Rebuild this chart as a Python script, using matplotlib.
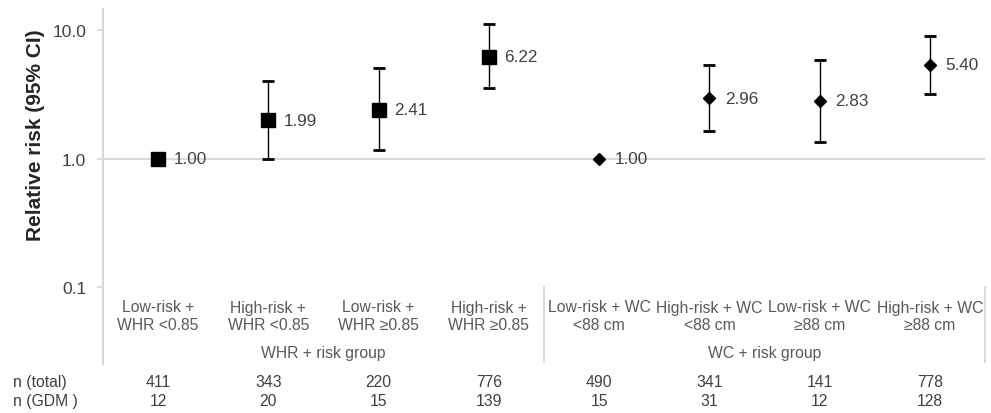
import matplotlib
matplotlib.use("Agg")
import matplotlib.pyplot as plt
import matplotlib.transforms as mtransforms

# ── Data ───────────────────────────────────────────────────────────────────────
cat_labels = ["Low-risk +\nWHR <0.85", "High-risk +\nWHR <0.85",
              "Low-risk +\nWHR \u22650.85", "High-risk +\nWHR \u22650.85",
              "Low-risk + WC\n<88 cm", "High-risk + WC\n<88 cm",
              "Low-risk + WC\n\u226588 cm", "High-risk + WC\n\u226588 cm"]
rr    = [1.00, 1.99, 2.41, 6.22, 1.00, 2.96, 2.83, 5.40]
ci_lo = [1.00, 1.00, 1.16, 3.53, 1.00, 1.64, 1.35, 3.19]
ci_hi = [1.00, 4.04, 5.05, 11.1, 1.00, 5.38, 5.88, 9.03]
markers = ["s", "s", "s", "s", "D", "D", "D", "D"]
group_labels = ["WHR + risk group", "WC + risk group"]
n_total = [411, 343, 220, 776, 490, 341, 141, 778]
n_gdm   = [12, 20, 15, 139, 15, 31, 12, 128]

# ── Style ──────────────────────────────────────────────────────────────────────
plt.rcParams['font.family'] = ['Liberation Sans', 'DejaVu Sans']
C_AXIS = '#d9d9d9'
C_TXT  = '#595959'
C_DARK = '#404040'

fig = plt.figure(figsize=(9.91, 4.14), dpi=100)
ax = fig.add_axes([103/991, 1 - 365/414, 882/991, 355/414])

ax.set_yscale('log')
ax.set_ylim(0.0253, 14.6)
ax.set_xlim(-0.5, 7.5)

xs = list(range(len(rr)))

# reference line at 1.0 (x axis crossing)
ax.axhline(1.0, color=C_AXIS, lw=1.5, zorder=1)

for i in xs:
    ms = 10 if markers[i] == 's' else 6.6
    if ci_hi[i] != ci_lo[i]:
        ax.errorbar(i, rr[i], yerr=[[rr[i] - ci_lo[i]], [ci_hi[i] - rr[i]]],
                    fmt='none', ecolor='black', elinewidth=1, capsize=4.5,
                    capthick=2, zorder=2)
    ax.plot(i, rr[i], marker=markers[i], color='black', ms=ms,
            linestyle='none', zorder=3)
    ax.annotate(f"{rr[i]:.2f}", (i, rr[i]), xytext=(11, 0),
                textcoords='offset points', va='center', ha='left',
                fontsize=12.3, color=C_DARK, zorder=4)

# axes styling
for s in ['top', 'right', 'bottom']:
    ax.spines[s].set_visible(False)
ax.spines['left'].set_color(C_AXIS)
ax.spines['left'].set_linewidth(1.5)
ax.set_yticks([0.1, 1.0, 10.0])
ax.set_yticklabels(["0.1", "1.0", "10.0"])
ax.yaxis.set_minor_locator(matplotlib.ticker.NullLocator())
ax.tick_params(axis='y', colors=C_AXIS, labelcolor=C_DARK, labelsize=12.5,
               length=4, width=1.2, pad=8)
ax.set_xticks([])
ax.set_ylabel("Relative risk (95% CI)", fontsize=15, fontweight='bold',
              color='#262626')
ax.yaxis.set_label_coords(-0.066, (365 - 135) / 355)

# category labels and group labels at bottom of plot area
bt = mtransforms.blended_transform_factory(ax.transData, ax.transAxes)
for i in xs:
    ax.text(i, (365 - 317) / 355, cat_labels[i], transform=bt, ha='center',
            va='center', fontsize=11.3, color=C_TXT, linespacing=1.25)
ax.text(1.5, (365 - 354) / 355, group_labels[0], transform=bt, ha='center',
        va='center', fontsize=11.3, color=C_TXT)
ax.text(5.5, (365 - 354) / 355, group_labels[1], transform=bt, ha='center',
        va='center', fontsize=11.3, color=C_TXT)
for xsep in [3.5, 7.5]:
    ax.plot([xsep, xsep], [(365 - 363) / 355, (365 - 288) / 355],
            transform=bt, color=C_AXIS, lw=1.3, clip_on=False)

# table rows under the chart
ft = mtransforms.blended_transform_factory(ax.transData, fig.transFigure)
fig.text(13/991, 1 - 383/414, "n (total)", ha='left', va='center',
         fontsize=11.3, color=C_DARK)
fig.text(13/991, 1 - 402/414, "n (GDM )", ha='left', va='center',
         fontsize=11.3, color=C_DARK)
for i in xs:
    fig.text(i, 1 - 383/414, str(n_total[i]), transform=ft, ha='center',
             va='center', fontsize=11.3, color=C_DARK)
    fig.text(i, 1 - 402/414, str(n_gdm[i]), transform=ft, ha='center',
             va='center', fontsize=11.3, color=C_DARK)

fig.savefig("out.png", dpi=100)
